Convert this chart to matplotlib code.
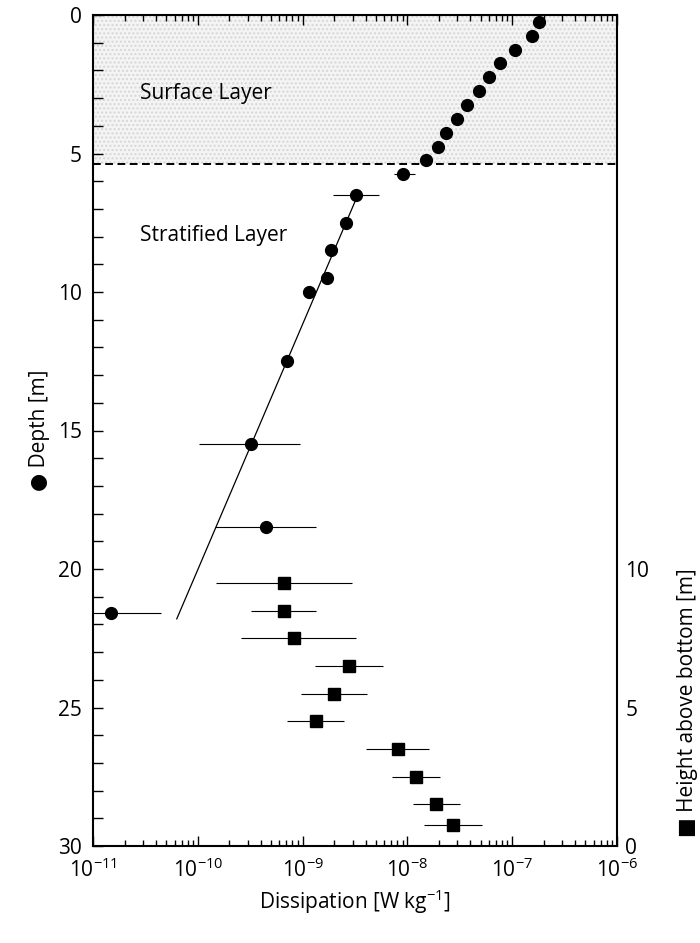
import numpy as np
import matplotlib
matplotlib.use("Agg")
import matplotlib.pyplot as plt
from matplotlib.ticker import MultipleLocator, LogLocator, NullFormatter

plt.rcParams['font.family'] = ['Open Sans', 'DejaVu Sans']
plt.rcParams['mathtext.default'] = 'regular'

# surface + stratified layer profile (depth [m], dissipation [W/kg])
circ_depth = [0.25, 0.75, 1.25, 1.75, 2.25, 2.75, 3.25, 3.75, 4.25, 4.75, 5.25, 5.75,
              6.5, 7.5, 8.5, 9.5, 10.0, 12.5, 15.5, 18.5, 21.6]
circ_eps = [1.8e-7, 1.55e-7, 1.06e-7, 7.7e-8, 6.0e-8, 4.8e-8, 3.7e-8, 2.95e-8, 2.35e-8,
            1.95e-8, 1.5e-8, 9.1e-9,
            3.2e-9, 2.6e-9, 1.85e-9, 1.7e-9, 1.15e-9, 7.1e-10, 3.2e-10, 4.5e-10, 1.5e-11]
circ_lo = [np.nan] * 11 + [7.4e-9, 1.95e-9] + [np.nan] * 5 + [1.02e-10, 1.45e-10, 5e-12]
circ_hi = [np.nan] * 11 + [1.17e-8, 5.4e-9] + [np.nan] * 5 + [9.5e-10, 1.35e-9, 4.5e-11]

# bottom boundary layer (height above bottom [m])
sq_height = [9.5, 8.5, 7.5, 6.5, 5.5, 4.5, 3.5, 2.5, 1.5, 0.75]
sq_eps = [6.7e-10, 6.6e-10, 8.2e-10, 2.75e-9, 2.0e-9, 1.33e-9, 8.1e-9, 1.2e-8, 1.86e-8, 2.75e-8]
sq_lo = [1.5e-10, 3.2e-10, 2.6e-10, 1.3e-9, 9.7e-10, 7.1e-10, 4.0e-9, 7.1e-9, 1.12e-8, 1.45e-8]
sq_hi = [2.95e-9, 1.33e-9, 3.2e-9, 5.8e-9, 4.1e-9, 2.5e-9, 1.62e-8, 2.05e-8, 3.2e-8, 5.2e-8]

# exponential fit through the stratified layer
fit_depth = [6.4, 21.8]
fit_eps = [3.45e-9, 6.3e-11]

mixed_depth = 5.38

circ_eps = np.array(circ_eps)
sq_eps = np.array(sq_eps)

fig = plt.figure(figsize=(7, 9.43), dpi=100)
ax = fig.add_axes([93 / 700, 1 - 846 / 943, 524 / 700, 831 / 943])

ax.axhspan(0, mixed_depth, facecolor='#f4f4f4', edgecolor='#d6d6d6', hatch='....',
           linewidth=0, zorder=0)
ax.axhline(mixed_depth, color='black', lw=1.4, ls=(0, (4, 2.3)), zorder=1)

ax.plot(fit_eps, fit_depth, color='black', lw=0.9, zorder=2)
ax.errorbar(circ_eps, circ_depth,
            xerr=[circ_eps - np.array(circ_lo), np.array(circ_hi) - circ_eps],
            fmt='o', color='black', ms=8.5, elinewidth=0.8, capsize=0, zorder=3)

ax.set_xscale('log')
ax.set_xlim(1e-11, 1e-6)
ax.set_ylim(30, 0)

ax.set_xticks([1e-11, 1e-10, 1e-9, 1e-8, 1e-7, 1e-6])
ax.set_xticklabels(['$10^{%d}$' % e for e in range(-11, -5)])
ax.xaxis.set_minor_locator(LogLocator(base=10, subs=np.arange(2, 10), numticks=20))
ax.xaxis.set_minor_formatter(NullFormatter())
ax.yaxis.set_major_locator(MultipleLocator(5))
ax.yaxis.set_minor_locator(MultipleLocator(1))

ax.tick_params(axis='both', which='both', direction='in', top=True, right=True,
               labelsize=15, width=1.0)
ax.tick_params(axis='x', which='major', length=7, pad=9)
ax.tick_params(axis='x', which='minor', length=4)
ax.tick_params(axis='y', which='both', length=7.5, pad=8)
for s in ax.spines.values():
    s.set_linewidth(1.5)

ax.text(2.8e-11, 2.85, 'Surface Layer', fontsize=15, va='center')
ax.text(2.8e-11, 7.95, 'Stratified Layer', fontsize=15, va='center')

ax.set_xlabel('Dissipation [W kg$^{-1}$]', fontsize=15, labelpad=4)
ax.set_ylabel('\u25cf Depth [m]', fontsize=15, labelpad=6)

ax2 = ax.twinx()
ax2.set_ylim(0, 30)
ax2.errorbar(sq_eps, sq_height,
             xerr=[sq_eps - np.array(sq_lo), np.array(sq_hi) - sq_eps],
             fmt='s', color='black', ms=9, elinewidth=0.8, capsize=0, zorder=3)
ax2.set_yticks([0, 5, 10])
ax2.tick_params(axis='y', length=0, labelsize=15, pad=6)
for s in ax2.spines.values():
    s.set_visible(False)
ax2.set_ylabel('\u25a0 Height above bottom [m]', fontsize=15, rotation=90)
ax2.yaxis.set_label_coords(1.115, 0.172)

fig.savefig('out.png', dpi=100)
